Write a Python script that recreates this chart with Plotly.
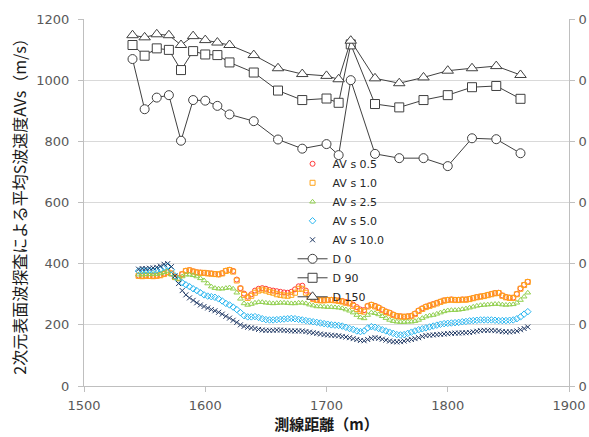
import plotly.graph_objects as go

# ---- data ----
dist_d = [1540, 1550, 1560, 1570, 1580, 1590, 1600, 1610, 1620, 1640, 1660,
          1680, 1700, 1710, 1720, 1740, 1760, 1780, 1800, 1820, 1840, 1860]
d0 = [1069, 905, 943, 951, 802, 935, 933, 916, 888, 866, 806,
      776, 791, 755, 1000, 759, 745, 745, 719, 810, 807, 761]
d90 = [1115, 1080, 1104, 1099, 1033, 1095, 1084, 1082, 1058, 1025, 966,
       935, 940, 926, 1117, 922, 911, 935, 951, 977, 981, 939]
d150 = [1147, 1140, 1150, 1147, 1115, 1144, 1131, 1123, 1115, 1082, 1039,
        1020, 1014, 1003, 1129, 1006, 990, 1009, 1031, 1039, 1046, 1017]

dist_av = list(range(1545, 1868, 3))

avs_05 = [361, 360, 361, 360, 360, 361, 363, 367, 372, 368,
          357, 353, 366, 377, 379, 375, 372, 371, 370, 369,
          368, 366, 365, 369, 377, 380, 376, 348, 320, 302,
          292, 300, 312, 318, 320, 318, 314, 312, 310, 308,
          306, 305, 308, 316, 326, 328, 312, 296, 286, 282,
          281, 281, 282, 282, 281, 280, 278, 275, 272, 266,
          258, 250, 248, 262, 266, 262, 257, 250, 244, 240,
          234, 229, 228, 227, 228, 230, 237, 247, 254, 260,
          264, 268, 272, 276, 280, 282, 283, 282, 282, 283,
          283, 285, 288, 291, 293, 295, 298, 301, 304, 305,
          296, 291, 289, 289, 301, 319, 331, 341]
avs_10 = [360, 359, 360, 360, 359, 360, 362, 366, 372, 368,
          356, 352, 365, 376, 378, 374, 371, 370, 370, 368,
          367, 366, 365, 368, 376, 379, 374, 345, 318, 298,
          288, 295, 305, 312, 315, 312, 308, 305, 300, 298,
          296, 295, 298, 305, 318, 318, 305, 292, 284, 281,
          280, 280, 281, 281, 280, 278, 276, 272, 270, 262,
          252, 245, 243, 260, 265, 260, 255, 248, 242, 238,
          232, 228, 227, 226, 227, 228, 235, 245, 252, 258,
          262, 266, 270, 275, 279, 281, 282, 281, 281, 282,
          282, 284, 287, 290, 292, 294, 297, 300, 303, 304,
          295, 290, 288, 288, 300, 318, 330, 340]
avs_25 = [364, 364, 365, 365, 366, 366, 368, 372, 376, 365,
          354, 350, 358, 364, 364, 362, 358, 352, 345, 335,
          325, 320, 318, 318, 320, 322, 318, 305, 285, 270,
          265, 268, 272, 274, 274, 272, 271, 270, 271, 272,
          272, 271, 270, 270, 272, 272, 270, 266, 263, 260,
          260, 259, 258, 258, 257, 256, 254, 250, 246, 240,
          232, 224, 221, 232, 240, 238, 234, 228, 222, 216,
          212, 210, 209, 209, 210, 210, 212, 216, 222, 227,
          230, 232, 236, 240, 244, 247, 248, 248, 249, 251,
          253, 256, 259, 262, 264, 265, 266, 267, 268, 268,
          266, 265, 266, 267, 272, 281, 292, 305]
avs_50 = [376, 377, 377, 378, 378, 379, 382, 388, 392, 380,
          360, 345, 338, 331, 325, 318, 312, 305, 298, 294,
          292, 290, 285, 278, 270, 265, 258, 250, 240, 230,
          226, 226, 227, 224, 220, 217, 216, 216, 217, 218,
          219, 220, 221, 220, 218, 216, 214, 212, 210, 208,
          206, 204, 202, 200, 199, 198, 196, 192, 188, 185,
          180, 178, 180, 190, 194, 192, 188, 184, 180, 176,
          172, 168, 167, 168, 172, 176, 180, 184, 187, 190,
          193, 196, 199, 202, 204, 205, 206, 207, 208, 210,
          211, 213, 214, 215, 216, 216, 216, 216, 215, 214,
          214, 214, 215, 216, 220, 226, 235, 243]
avs_100 = [382, 384, 384, 385, 386, 388, 392, 398, 400, 390,
           360, 335, 312, 298, 288, 280, 272, 265, 260, 255,
           250, 246, 241, 235, 228, 222, 215, 208, 200, 195,
           192, 190, 188, 185, 183, 182, 182, 182, 183, 183,
           182, 181, 180, 180, 180, 180, 178, 176, 174, 172,
           170, 168, 167, 166, 165, 164, 162, 160, 158, 155,
           152, 149, 148, 152, 156, 158, 156, 153, 150, 147,
           145, 144, 145, 147, 150, 152, 155, 158, 162, 165,
           166, 167, 168, 169, 170, 171, 172, 173, 173, 174,
           174, 175, 177, 179, 181, 182, 182, 182, 181, 180,
           178, 177, 177, 178, 180, 184, 188, 193]

av_names = ["AV s 0.5", "AV s 1.0", "AV s 2.5", "AV s 5.0", "AV s 10.0"]
d_names = ["D 0", "D 90", "D 150"]
x_ticks = [1500, 1600, 1700, 1800, 1900]
y_ticks = [0, 200, 400, 600, 800, 1000, 1200]
right_ticks = [0, 0.2, 0.4, 0.6, 0.8, 1.0, 1.2]

# ---- figure ----
fig = go.Figure()

av_series = [avs_05, avs_10, avs_25, avs_50, avs_100]
av_colors = ["#FF3B3B", "#FFA41B", "#92D050", "#29B6F0", "#1F3864"]
av_symbols = ["circle-open", "square-open", "triangle-up-open", "diamond-open", "x-thin-open"]
for name, vals, col, sym in zip(av_names, av_series, av_colors, av_symbols):
    fig.add_trace(go.Scatter(
        x=dist_av, y=vals, name=name, mode="markers",
        marker=dict(symbol=sym, size=5, color=col, line=dict(color=col, width=1)),
    ))

d_series = [d0, d90, d150]
d_symbols = ["circle", "square", "triangle-up"]
d_sizes = [9, 9, 10]
for name, vals, sym, sz in zip(d_names, d_series, d_symbols, d_sizes):
    fig.add_trace(go.Scatter(
        x=dist_d, y=vals, name=name, mode="lines+markers",
        line=dict(color="#404040", width=1),
        marker=dict(symbol=sym, size=sz, color="white",
                    line=dict(color="#404040", width=1)),
    ))

# empty trace to carry the secondary (right) axis
fig.add_trace(go.Scatter(x=[], y=[], yaxis="y2", showlegend=False, hoverinfo="skip"))

tick_font = dict(family="DejaVu Sans", size=13, color="#595959")

fig.update_layout(
    width=589, height=437,
    margin=dict(l=84, r=20, t=19, b=51, autoexpand=False),
    paper_bgcolor="white", plot_bgcolor="white",
    showlegend=True,
    legend=dict(
        x=0.43, y=0.645, xanchor="left", yanchor="top",
        bgcolor="rgba(255,255,255,0)", borderwidth=0,
        font=dict(family="DejaVu Sans", size=11, color="#262626"),
        tracegroupgap=0, itemwidth=30,
    ),
    xaxis=dict(
        range=[1500, 1900], tickvals=x_ticks, ticktext=[str(v) for v in x_ticks],
        showgrid=False, zeroline=False, automargin=False,
        showline=True, linecolor="#BFBFBF", linewidth=1,
        ticks="outside", ticklen=5, tickcolor="#BFBFBF",
        tickfont=tick_font, ticklabelstandoff=2,
        title=dict(text="<b>測線距離（m）</b>", standoff=5,
                   font=dict(family="Noto Sans CJK JP", size=15, color="#1a1a1a")),
    ),
    yaxis=dict(
        range=[0, 1200], tickvals=y_ticks, ticktext=[str(v) for v in y_ticks],
        showgrid=True, gridcolor="#D9D9D9", gridwidth=1, zeroline=False,
        automargin=False,
        showline=True, linecolor="#BFBFBF", linewidth=1,
        ticks="outside", ticklen=5, tickcolor="#BFBFBF",
        tickfont=tick_font, ticklabelstandoff=6,
        title=dict(text="2次元表面波探査による平均S波速度AVs（m/s）", standoff=5,
                   font=dict(family="Noto Sans CJK JP", size=16, color="#1a1a1a")),
    ),
    yaxis2=dict(
        overlaying="y", side="right", range=[0, 1.2], automargin=False,
        tickvals=right_ticks, ticktext=["0"] * len(right_ticks),
        showgrid=False, zeroline=False,
        showline=True, linecolor="#BFBFBF", linewidth=1,
        ticks="outside", ticklen=5, tickcolor="#BFBFBF",
        tickfont=tick_font, ticklabelstandoff=1,
    ),
)

fig.write_html("out.html")
